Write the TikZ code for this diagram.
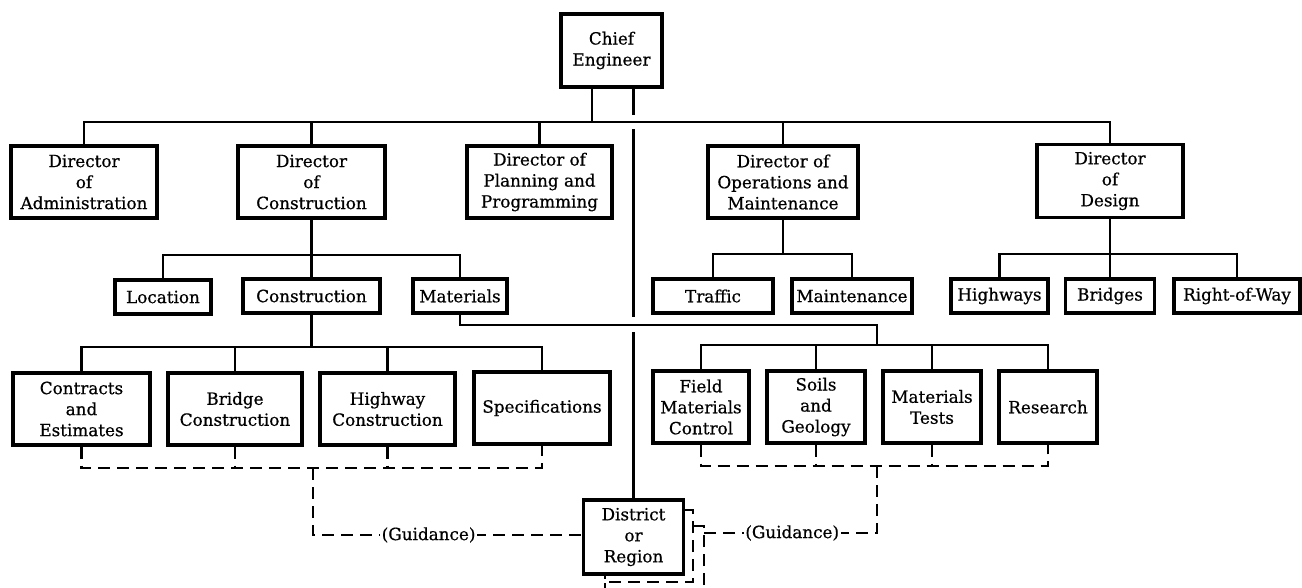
\documentclass[tikz,border=0pt]{standalone}
\usepackage{fontspec}
\newfontfamily\orgfont[FakeBold=0.6]{DejaVu Serif}
\begin{document}
\begin{tikzpicture}[x=1pt,y=-1pt,
  unit/.style={draw, line width=3.2pt, fill=white, align=center, inner sep=1pt,
    font=\orgfont\fontsize{16.8}{21}\selectfont},
  link/.style={line width=2.2pt},
  guide/.style={line width=2.2pt, dash pattern=on 12pt off 7pt},
  tag/.style={fill=white, inner sep=1.5pt, font=\orgfont\fontsize{16.8}{21}\selectfont}]
\useasboundingbox (0,0) rectangle (1302,587);

% stacked outlines behind the district office
\draw[guide, fill=white] (605,526) rectangle (704,620);
\draw[guide, fill=white] (605,510) rectangle (693,582);

% top of the organisation
\node[unit, minimum width=101pt, minimum height=73pt] (chief) at (611.5,50.5) {Chief\\Engineer};

% directors
\node[unit, minimum width=146pt, minimum height=72pt] (admin)  at (84,182)    {Director\\of\\Administration};
\node[unit, minimum width=147pt, minimum height=72pt] (dcons)  at (311.5,182) {Director\\of\\Construction};
\node[unit, minimum width=145pt, minimum height=72pt] (plan)   at (539.5,182) {Director of\\Planning and\\Programming};
\node[unit, minimum width=150pt, minimum height=72pt] (ops)    at (783,182)   {Director of\\Operations and\\Maintenance};
\node[unit, minimum width=146pt, minimum height=73pt] (design) at (1110,181)  {Director\\of\\Design};

% divisions
\node[unit, minimum width=96pt,  minimum height=34pt] (location) at (163,297)    {Location};
\node[unit, minimum width=137pt, minimum height=34pt] (cons)     at (311.5,296)  {Construction};
\node[unit, minimum width=94pt,  minimum height=34pt] (mat)      at (460,296)    {Materials};
\node[unit, minimum width=120pt, minimum height=34pt] (traffic)  at (713,296)    {Traffic};
\node[unit, minimum width=120pt, minimum height=34pt] (maint)    at (852,296)    {Maintenance};
\node[unit, minimum width=97pt,  minimum height=34pt] (highways) at (999.5,296)  {Highways};
\node[unit, minimum width=89pt,  minimum height=34pt] (bridges)  at (1110,296)   {Bridges};
\node[unit, minimum width=126pt, minimum height=34pt] (row)      at (1237,296)   {Right-of-Way};

% construction sections
\node[unit, minimum width=137pt, minimum height=72pt] (contracts) at (81.5,409) {Contracts\\and\\Estimates};
\node[unit, minimum width=134pt, minimum height=72pt] (bridgec)   at (235,409)  {Bridge\\Construction};
\node[unit, minimum width=135pt, minimum height=72pt] (highwayc)  at (387.5,409) {Highway\\Construction};
\node[unit, minimum width=136pt, minimum height=72pt] (specs)     at (542,408)  {Specifications};

% materials sections
\node[unit, minimum width=96pt, minimum height=72pt] (field)    at (701,407)  {Field\\Materials\\Control};
\node[unit, minimum width=98pt, minimum height=72pt] (soils)    at (816,407)  {Soils\\and\\Geology};
\node[unit, minimum width=98pt, minimum height=72pt] (tests)    at (932,407)  {Materials\\Tests};
\node[unit, minimum width=98pt, minimum height=72pt] (research) at (1048,407) {Research};

% field office
\node[unit, minimum width=100pt, minimum height=74pt] (district) at (633.5,537) {District\\or\\Region};

% bus lines
\coordinate (busA) at (592,122);
\coordinate (busB) at (0,255);
\coordinate (busC) at (0,254);
\coordinate (busD) at (0,347);
\coordinate (mturn) at (877,325);
\coordinate (mhub) at (877,345);

\draw[link] (chief.south -| busA) -- (busA);
\draw[link] (admin.north) |- (design.north |- busA) -- (design.north);
\foreach \n in {dcons,plan,ops} \draw[link] (\n.north) -- (\n.north |- busA);

% line of authority to the field, broken where it crosses
\coordinate (sp1) at (633.5,115);
\coordinate (sp2) at (633.5,129);
\coordinate (sp3) at (633.5,317);
\coordinate (sp4) at (633.5,332);
\draw[link] (chief.south -| sp1) -- (sp1);
\draw[link] (sp2) -- (sp3);
\draw[link] (sp4) -- (district.north);

% construction divisions
\draw[link] (dcons.south) -- (cons.north);
\draw[link] (location.north) |- (mat.north |- busB) -- (mat.north);

% operations and design divisions
\draw[link] (ops.south) -- (ops.south |- busC);
\draw[link] (traffic.north) |- (maint.north |- busC) -- (maint.north);
\draw[link] (design.south) -- (bridges.north);
\draw[link] (highways.north) |- (row.north |- busC) -- (row.north);

% construction sections
\draw[link] (cons.south) -- (cons.south |- busD);
\draw[link] (contracts.north) |- (specs.north |- busD) -- (specs.north);
\foreach \n in {bridgec,highwayc} \draw[link] (\n.north) -- (\n.north |- busD);

% materials sections
\draw[link] (mat.south) |- (mturn) -- (mhub);
\draw[link] (field.north) |- (research.north |- mhub) -- (research.north);
\foreach \n in {soils,tests} \draw[link] (\n.north) -- (\n.north |- mhub);

% guidance lines
\coordinate (gbusL) at (313,468);
\coordinate (gcornerL) at (313,535);
\draw[guide] (contracts.south) |- (specs.south |- gbusL) -- (specs.south);
\foreach \n in {bridgec,highwayc} \draw[guide] (\n.south) -- (\n.south |- gbusL);
\draw[guide] (gbusL) -- (gcornerL) -- node[tag, pos=0.43] {(Guidance)} (district.west |- gcornerL);

\coordinate (gbusR) at (877,466);
\coordinate (gcornerR) at (877,533);
\coordinate (shadowR) at (704,533);
\draw[guide] (field.south) |- (research.south |- gbusR) -- (research.south);
\foreach \n in {soils,tests} \draw[guide] (\n.south) -- (\n.south |- gbusR);
\draw[guide] (gbusR) -- (gcornerR) -- node[tag, pos=0.49] {(Guidance)} (shadowR);
\end{tikzpicture}
\end{document}
